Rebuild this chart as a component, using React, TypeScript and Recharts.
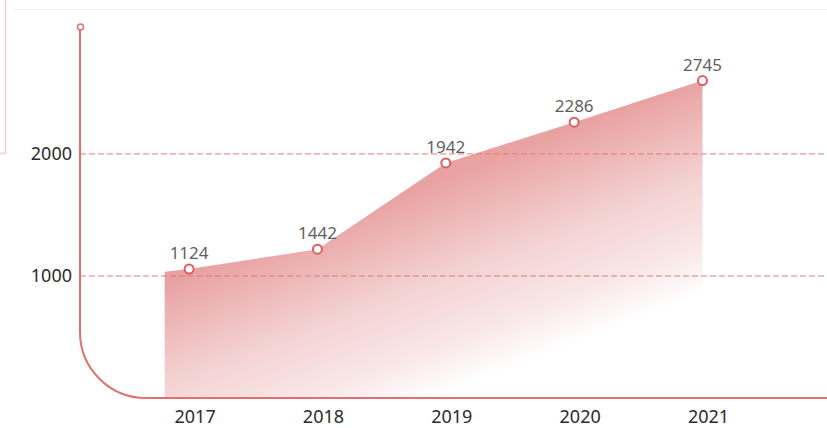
import { ComposedChart, Area, XAxis, YAxis, ReferenceLine, LabelList } from 'recharts';

const YEARS = [2017, 2018, 2019, 2020, 2021];
// printed values above each point
const LABELS = ['1124', '1442', '1942', '2286', '2745'];
// height of each point as drawn against the y axis
const LEVELS = [1057, 1219, 1926, 2260, 2601];
// the filled band starts a little before the first year
const AREA_START_YEAR = 2016.81;
const AREA_START_LEVEL = 1035;
const Y_TICKS = [1000, 2000];
const Y_MAX = 3040;
const X_DOMAIN = [2016.15, 2021.97];

const W = 827;
const H = 428;
const PLOT_LEFT = 80;
const PLOT_TOP = 27;
const PLOT_BOTTOM = 398;
const CORNER = 66;

const RED = '#e26f6f';
const FONT = '"Noto Sans", "Open Sans", sans-serif';

const data = [
  { year: AREA_START_YEAR, level: AREA_START_LEVEL },
  ...YEARS.map((y, i) => ({ year: y, level: LEVELS[i], label: LABELS[i] })),
];

function Dot(props: any) {
  const { cx, cy, payload, index } = props;
  if (!payload?.label) return <g key={`d${index}`} />;
  return <circle key={`d${index}`} cx={cx} cy={cy} r={4.5} fill="#fff" stroke="#da5f60" strokeWidth={2} />;
}

export default function App() {
  return (
    <div style={{ position: 'absolute', left: 0, top: 0, width: W, height: H, background: '#fff', fontFamily: FONT }}>
      <ComposedChart
        width={W}
        height={H}
        data={data}
        margin={{ top: PLOT_TOP, right: 0, bottom: 0, left: 0 }}
      >
        <defs>
          <linearGradient id="fade" x1="0" y1="0" x2="0.65" y2="1">
            <stop offset="0%" stopColor="#e69494" />
            <stop offset="45%" stopColor="#e9a2a2" />
            <stop offset="66%" stopColor="#f3d0d0" />
            <stop offset="82%" stopColor="#f9e7e7" />
            <stop offset="93%" stopColor="#ffffff" />
          </linearGradient>
        </defs>
        <XAxis
          type="number"
          dataKey="year"
          domain={X_DOMAIN}
          ticks={YEARS}
          allowDataOverflow
          height={H - PLOT_BOTTOM}
          axisLine={false}
          tickLine={false}
          tickSize={0}
          tickMargin={12}
          tick={{ fontSize: 18, fill: '#2b2b2b', fontFamily: FONT, dx: 6 }}
        />
        <YAxis
          type="number"
          domain={[0, Y_MAX]}
          ticks={Y_TICKS}
          allowDataOverflow
          width={PLOT_LEFT}
          axisLine={false}
          tickLine={false}
          tickSize={0}
          tickMargin={8}
          tick={{ fontSize: 18, fill: '#2b2b2b', fontFamily: FONT }}
        />
        <Area
          type="linear"
          dataKey="level"
          stroke="none"
          fill="url(#fade)"
          fillOpacity={1}
          dot={Dot}
          activeDot={false}
          isAnimationActive={false}
        >
          <LabelList dataKey="label" position="top" offset={10} fill="#5f5f5f" fontSize={17} fontFamily={FONT} />
        </Area>
        {Y_TICKS.map(t => (
          <ReferenceLine key={t} y={t} stroke="#e37a7a" strokeDasharray="6 3" strokeWidth={1} />
        ))}
      </ComposedChart>
      <svg width={W} height={H} style={{ position: 'absolute', left: 0, top: 0, pointerEvents: 'none' }}>
        <line x1={14} y1={9.5} x2={W} y2={9.5} stroke="#ececec" strokeWidth={1} />
        <path d={`M5.5 0 V153.5 H0`} fill="none" stroke="#f6cccc" strokeWidth={1.5} />
        <path
          d={`M${PLOT_LEFT} ${PLOT_TOP} V${PLOT_BOTTOM - CORNER} A${CORNER} ${CORNER} 0 0 0 ${PLOT_LEFT + CORNER} ${PLOT_BOTTOM} H${W}`}
          fill="none"
          stroke={RED}
          strokeWidth={2}
        />
        <circle cx={PLOT_LEFT + 0.5} cy={PLOT_TOP} r={3} fill="#fff" stroke={RED} strokeWidth={1.5} />
      </svg>
    </div>
  );
}
